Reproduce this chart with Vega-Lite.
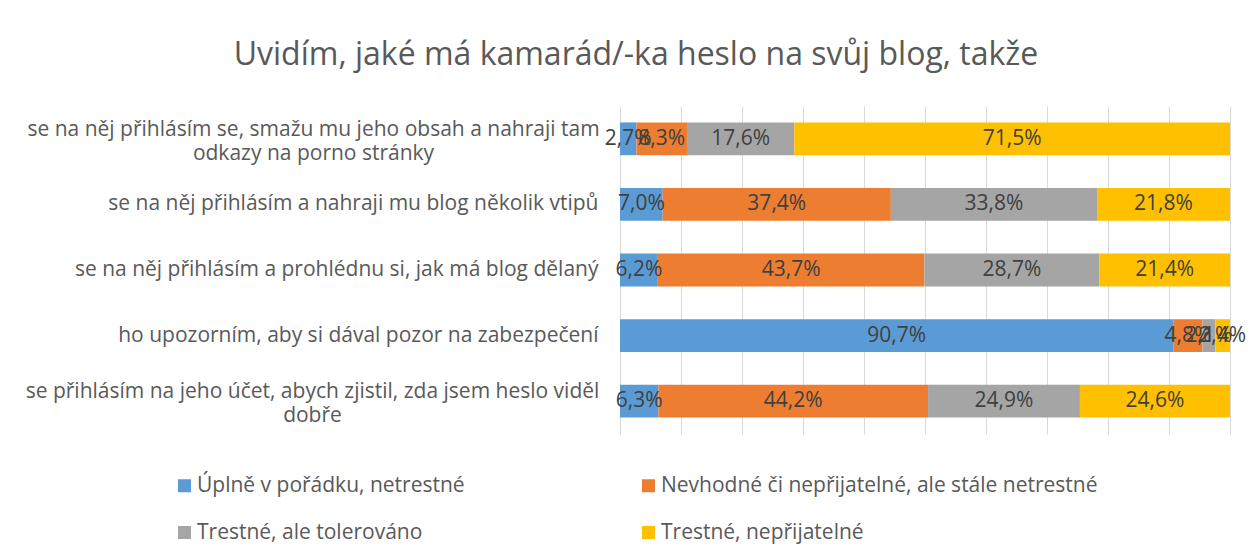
{
  "$schema": "https://vega.github.io/schema/vega-lite/v6.json",
  "autosize": {"type": "none"},
  "width": 610,
  "height": 328,
  "padding": {"left": 620, "top": 106, "right": 30, "bottom": 123},
  "background": "white",
  "title": {
    "text": "Uvidím, jaké má kamarád/-ka heslo na svůj blog, takže",
    "font": "Open Sans",
    "fontSize": 32,
    "fontWeight": "normal",
    "color": "#595959",
    "anchor": "middle",
    "frame": "group",
    "dx": -289,
    "offset": 34
  },
  "data": {
    "values": [
      {"item": "se na něj přihlásím se, smažu mu jeho obsah a nahraji tam odkazy na porno stránky", "cat": "Úplně v pořádku, netrestné", "value": 2.7},
      {"item": "se na něj přihlásím se, smažu mu jeho obsah a nahraji tam odkazy na porno stránky", "cat": "Nevhodné či nepřijatelné, ale stále netrestné", "value": 8.3},
      {"item": "se na něj přihlásím se, smažu mu jeho obsah a nahraji tam odkazy na porno stránky", "cat": "Trestné, ale tolerováno", "value": 17.6},
      {"item": "se na něj přihlásím se, smažu mu jeho obsah a nahraji tam odkazy na porno stránky", "cat": "Trestné, nepřijatelné", "value": 71.5},
      {"item": "se na něj přihlásím a nahraji mu blog několik vtipů", "cat": "Úplně v pořádku, netrestné", "value": 7.0},
      {"item": "se na něj přihlásím a nahraji mu blog několik vtipů", "cat": "Nevhodné či nepřijatelné, ale stále netrestné", "value": 37.4},
      {"item": "se na něj přihlásím a nahraji mu blog několik vtipů", "cat": "Trestné, ale tolerováno", "value": 33.8},
      {"item": "se na něj přihlásím a nahraji mu blog několik vtipů", "cat": "Trestné, nepřijatelné", "value": 21.8},
      {"item": "se na něj přihlásím a prohlédnu si, jak má blog dělaný", "cat": "Úplně v pořádku, netrestné", "value": 6.2},
      {"item": "se na něj přihlásím a prohlédnu si, jak má blog dělaný", "cat": "Nevhodné či nepřijatelné, ale stále netrestné", "value": 43.7},
      {"item": "se na něj přihlásím a prohlédnu si, jak má blog dělaný", "cat": "Trestné, ale tolerováno", "value": 28.7},
      {"item": "se na něj přihlásím a prohlédnu si, jak má blog dělaný", "cat": "Trestné, nepřijatelné", "value": 21.4},
      {"item": "ho upozorním, aby si dával pozor na zabezpečení", "cat": "Úplně v pořádku, netrestné", "value": 90.7},
      {"item": "ho upozorním, aby si dával pozor na zabezpečení", "cat": "Nevhodné či nepřijatelné, ale stále netrestné", "value": 4.8},
      {"item": "ho upozorním, aby si dával pozor na zabezpečení", "cat": "Trestné, ale tolerováno", "value": 2.1},
      {"item": "ho upozorním, aby si dával pozor na zabezpečení", "cat": "Trestné, nepřijatelné", "value": 2.4},
      {"item": "se přihlásím na jeho účet, abych zjistil, zda jsem heslo viděl dobře", "cat": "Úplně v pořádku, netrestné", "value": 6.3},
      {"item": "se přihlásím na jeho účet, abych zjistil, zda jsem heslo viděl dobře", "cat": "Nevhodné či nepřijatelné, ale stále netrestné", "value": 44.2},
      {"item": "se přihlásím na jeho účet, abych zjistil, zda jsem heslo viděl dobře", "cat": "Trestné, ale tolerováno", "value": 24.9},
      {"item": "se přihlásím na jeho účet, abych zjistil, zda jsem heslo viděl dobře", "cat": "Trestné, nepřijatelné", "value": 24.6}
    ]
  },
  "transform": [
    {"calculate": "indexof(['Úplně v pořádku, netrestné', 'Nevhodné či nepřijatelné, ale stále netrestné', 'Trestné, ale tolerováno', 'Trestné, nepřijatelné'], datum.cat)", "as": "k"},
    {"stack": "value", "groupby": ["item"], "sort": [{"field": "k", "order": "ascending"}], "offset": "normalize", "as": ["x0", "x1"]},
    {"calculate": "(datum.x0 + datum.x1) / 2", "as": "mid"},
    {"calculate": "replace(format(datum.value, '.1f'), '.', ',') + '%'", "as": "lab"}
  ],
  "encoding": {
    "y": {
      "field": "item",
      "type": "nominal",
      "sort": null,
      "scale": {"paddingInner": 0.5, "paddingOuter": 0.25},
      "axis": {
        "title": null,
        "domain": false,
        "ticks": false,
        "labelFont": "Open Sans",
        "labelFontSize": 21,
        "labelColor": "#595959",
        "labelLimit": 700,
        "labelLineHeight": 24,
        "labelAlign": {"condition": {"test": "indexof(['se na něj přihlásím se, smažu mu jeho obsah a nahraji tam odkazy na porno stránky', 'se přihlásím na jeho účet, abych zjistil, zda jsem heslo viděl dobře'], datum.value) >= 0", "value": "center"}, "value": "right"},
        "labelPadding": {"condition": [{"test": "datum.value == 'se na něj přihlásím se, smažu mu jeho obsah a nahraji tam odkazy na porno stránky'", "value": 307}, {"test": "datum.value == 'se přihlásím na jeho účet, abych zjistil, zda jsem heslo viděl dobře'", "value": 308}], "value": 22},
        "labelOffset": {"condition": {"test": "indexof(['se na něj přihlásím se, smažu mu jeho obsah a nahraji tam odkazy na porno stránky', 'se přihlásím na jeho účet, abych zjistil, zda jsem heslo viděl dobře'], datum.value) >= 0", "value": -9}, "value": 0},
        "labelExpr": "datum.value == 'se na něj přihlásím se, smažu mu jeho obsah a nahraji tam odkazy na porno stránky' ? ['se na něj přihlásím se, smažu mu jeho obsah a nahraji tam', 'odkazy na porno stránky'] : datum.value == 'se přihlásím na jeho účet, abych zjistil, zda jsem heslo viděl dobře' ? ['se přihlásím na jeho účet, abych zjistil, zda jsem heslo viděl', 'dobře'] : datum.value"
      }
    }
  },
  "layer": [
    {
      "mark": {"type": "bar"},
      "encoding": {
        "x": {
          "field": "x0",
          "type": "quantitative",
          "scale": {"domain": [0, 1], "nice": false, "zero": true},
          "axis": {
            "title": null,
            "labels": false,
            "ticks": false,
            "domain": false,
            "grid": true,
            "gridColor": "#D9D9D9",
            "gridWidth": 1,
            "values": [0, 0.1, 0.2, 0.3, 0.4, 0.5, 0.6, 0.7, 0.8, 0.9, 1]
          }
        },
        "x2": {"field": "x1"},
        "color": {
          "field": "cat",
          "type": "nominal",
          "scale": {
            "domain": ["Úplně v pořádku, netrestné", "Trestné, ale tolerováno", "Nevhodné či nepřijatelné, ale stále netrestné", "Trestné, nepřijatelné"],
            "range": ["#5B9BD5", "#A5A5A5", "#ED7D31", "#FFC000"]
          },
          "legend": {
            "title": null,
            "orient": "none",
            "legendX": -446,
            "legendY": 369,
            "columns": 2,
            "columnPadding": 173,
            "rowPadding": 25,
            "labelFont": "Open Sans",
            "labelFontSize": 21,
            "labelColor": "#595959",
            "labelLimit": 700,
            "labelOffset": 2,
            "symbolType": "square",
            "symbolSize": 169,
            "symbolStrokeWidth": 0,
            "symbolOpacity": 1
          }
        }
      }
    },
    {
      "mark": {"type": "text", "font": "Open Sans", "fontSize": 21, "color": "#404040", "align": "center", "baseline": "middle"},
      "encoding": {
        "x": {"field": "mid", "type": "quantitative"},
        "text": {"field": "lab"}
      }
    }
  ],
  "config": {
    "view": {"stroke": null}
  }
}
